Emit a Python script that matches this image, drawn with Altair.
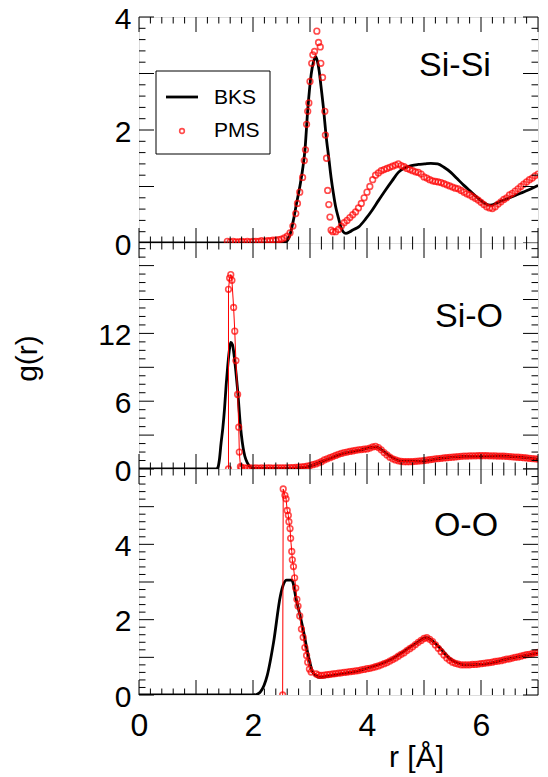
import altair as alt
import numpy as np
import pandas as pd

FONT = "Liberation Sans"
W, H = 399, 226

# ---------------- data ----------------
# BKS curves (black lines)
sisi_bks_r = [0.0, 2.50, 2.59, 2.65, 2.71, 2.76, 2.82, 2.87, 2.91, 2.96, 3.02, 3.06, 3.10,
              3.13, 3.16, 3.19, 3.24, 3.28, 3.33, 3.37, 3.41, 3.45, 3.50, 3.54, 3.58, 3.63,
              3.70, 3.75, 3.86, 3.98, 4.09, 4.20, 4.32, 4.44, 4.55, 4.67, 4.78, 4.90, 5.01,
              5.12, 5.24, 5.35, 5.47, 5.58, 5.70, 5.82, 5.93, 6.00, 6.07, 6.16, 6.30, 6.45,
              6.60, 6.74, 6.88, 7.00]
sisi_bks_g = [0.0, 0.0, 0.03, 0.15, 0.41, 0.68, 0.99, 1.30, 1.63, 2.35, 2.98, 3.20, 3.30,
              3.22, 3.05, 2.80, 2.35, 1.92, 1.50, 1.16, 0.88, 0.64, 0.44, 0.29, 0.20, 0.17,
              0.20, 0.23, 0.29, 0.43, 0.58, 0.75, 0.93, 1.10, 1.25, 1.33, 1.37, 1.39, 1.40,
              1.41, 1.40, 1.34, 1.25, 1.14, 1.02, 0.91, 0.81, 0.75, 0.70, 0.67, 0.72, 0.78,
              0.84, 0.90, 0.96, 1.02]

sio_bks_r = [0.0, 1.35, 1.38, 1.41, 1.44, 1.47, 1.50, 1.53, 1.56, 1.59, 1.61, 1.64, 1.67,
             1.70, 1.73, 1.78, 1.84, 1.93, 2.00, 2.50, 2.90, 3.30, 3.60, 3.90, 4.15, 4.40,
             4.60, 4.90, 5.30, 5.70, 6.30, 7.00]
sio_bks_g = [0.0, 0.0, 0.1, 0.8, 2.3, 3.6, 5.3, 7.5, 9.3, 10.7, 11.2, 11.0, 10.0,
             8.6, 7.0, 3.8, 1.5, 0.3, 0.05, 0.05, 0.15, 0.85, 1.4, 1.7, 1.95, 1.15,
             0.7, 0.7, 0.95, 1.12, 1.15, 0.88]

oo_bks_r = [0.0, 2.00, 2.07, 2.13, 2.25, 2.36, 2.48, 2.53, 2.59, 2.68, 2.76, 2.88, 2.97,
            3.05, 3.17, 3.50, 3.86, 4.43, 4.83, 5.04, 5.24, 5.47, 5.70, 6.04, 6.45, 7.00]
oo_bks_g = [0.0, 0.0, 0.02, 0.08, 0.52, 1.39, 2.63, 2.92, 3.05, 3.05, 2.53, 1.74, 1.05,
            0.60, 0.47, 0.55, 0.65, 0.95, 1.34, 1.52, 1.31, 0.95, 0.80, 0.82, 0.95, 1.12]


def grid(start, n):
    return [round(start + 0.05 * k, 2) for k in range(n)]


# PMS Si-Si (open circles)
sisi_pms_r = (grid(1.55, 23)
              + [2.70, 2.75, 2.78, 2.82, 2.87, 2.90, 2.92, 2.94, 2.96, 2.98, 3.00, 3.03, 3.05,
                 3.08, 3.12, 3.15, 3.18, 3.19, 3.22, 3.26, 3.27, 3.29, 3.31, 3.33, 3.35, 3.37]
              + grid(3.40, 73))
sisi_pms_g = ([0.03, 0.02, 0.03, 0.02, 0.02, 0.03, 0.02, 0.03, 0.02, 0.03, 0.03, 0.03,
               0.04, 0.03, 0.04, 0.04, 0.05, 0.05, 0.06, 0.07, 0.09, 0.12, 0.18]
              + [0.30, 0.52, 0.70, 0.90, 1.16, 1.46, 1.65, 2.10, 2.33, 2.48, 2.86, 3.18, 3.33,
                 3.39, 3.75, 3.55, 3.47, 3.18, 2.93, 2.33, 1.91, 1.50, 0.93, 0.68, 0.46, 0.23]
              + [0.20, 0.20, 0.24, 0.30, 0.36, 0.40, 0.45, 0.50, 0.55, 0.62, 0.70, 0.80,
                 0.90, 1.00, 1.12, 1.20, 1.24, 1.28, 1.30, 1.32, 1.34, 1.36, 1.38, 1.40,
                 1.37, 1.35, 1.32, 1.30, 1.28, 1.26, 1.25, 1.22,
                 1.17, 1.15, 1.12, 1.10, 1.09, 1.08, 1.07, 1.05, 1.03, 1.01, 0.99, 0.97,
                 0.96, 0.93, 0.90, 0.87, 0.85, 0.82, 0.79, 0.76,
                 0.72, 0.68, 0.64, 0.62, 0.61, 0.64, 0.69, 0.73, 0.77, 0.80, 0.85, 0.88,
                 0.92, 0.96, 1.00, 1.04, 1.08, 1.12, 1.15, 1.19,
                 1.22])

# PMS Si-O
sio_pms_r = ([1.57, 1.57, 1.59, 1.61, 1.63, 1.66, 1.68, 1.70, 1.73, 1.75, 1.76, 1.78]
             + grid(1.80, 105))
sio_pms_g = ([0.0, 15.9, 16.9, 17.2, 16.7, 14.3, 12.2, 9.6, 6.6, 3.7, 1.5, 0.2]
             + [0.12, 0.10, 0.08, 0.10, 0.08, 0.10, 0.08, 0.10, 0.08, 0.10, 0.10, 0.08, 0.10, 0.10,
                0.10, 0.10, 0.10, 0.12, 0.12, 0.14, 0.16, 0.18, 0.20, 0.25,
                0.30, 0.38, 0.45, 0.55, 0.65, 0.80, 0.90, 1.00, 1.10, 1.20, 1.30, 1.38,
                1.45, 1.50, 1.55, 1.60, 1.65, 1.70, 1.72, 1.75,
                1.78, 1.85, 1.95, 2.00, 1.90, 1.70, 1.45, 1.25, 1.05, 0.90, 0.80, 0.72,
                0.68, 0.65, 0.65, 0.65, 0.66, 0.68, 0.70, 0.72,
                0.75, 0.78, 0.82, 0.86, 0.90, 0.92, 0.95, 0.98, 1.00, 1.02, 1.05, 1.07,
                1.10, 1.12, 1.14, 1.15, 1.16, 1.17, 1.17, 1.18,
                1.18, 1.18, 1.18, 1.17, 1.17, 1.16, 1.15, 1.14, 1.13, 1.12, 1.10, 1.08,
                1.06, 1.04, 1.02, 1.00, 0.98, 0.95, 0.92, 0.90,
                0.88])

# PMS O-O
oo_pms_r = ([2.52, 2.53, 2.56, 2.58, 2.60, 2.62, 2.63, 2.65, 2.66, 2.68, 2.69, 2.71, 2.73,
             2.75, 2.77, 2.79, 2.82, 2.85, 2.88, 2.91, 2.94, 2.96, 2.99, 3.02, 3.11]
            + grid(3.15, 78))
oo_pms_g = ([0.0, 5.47, 5.30, 5.21, 4.90, 4.77, 4.60, 4.42, 4.16, 3.81, 3.59, 3.41, 3.11,
             2.84, 2.54, 2.36, 2.10, 1.75, 1.53, 1.26, 1.05, 0.87, 0.69, 0.61, 0.56]
            + [0.53, 0.52, 0.53, 0.54, 0.55, 0.56, 0.57, 0.58, 0.59, 0.60, 0.61, 0.62,
               0.63, 0.64, 0.65, 0.67, 0.68,
               0.70, 0.71, 0.73, 0.75, 0.77, 0.80, 0.83, 0.86, 0.90, 0.94, 0.98, 1.03,
               1.08, 1.12, 1.18, 1.23, 1.28, 1.34, 1.40, 1.45,
               1.50, 1.52, 1.48, 1.42, 1.33, 1.24, 1.15, 1.06, 0.98, 0.92, 0.87, 0.84,
               0.82, 0.80, 0.80, 0.80, 0.80, 0.81, 0.81, 0.82,
               0.83, 0.84, 0.85, 0.86, 0.87, 0.89, 0.90, 0.91, 0.93, 0.95, 0.96, 0.98,
               1.00, 1.01, 1.03, 1.05, 1.07, 1.08, 1.10, 1.12,
               1.13])

panel_labels = ["Si-Si", "Si-O", "O-O"]
legend_labels = ["BKS", "PMS"]

x_major = [0, 1, 2, 3, 4, 5, 6, 7]
x_labels = [0, 2, 4, 6]
y_labels = [[0, 2, 4], [0, 6, 12], [0, 2, 4]]
y_major = [[0, 1, 2, 3, 4], [0, 3, 6, 9, 12, 15, 18], [0, 1, 2, 3, 4, 5, 6]]
y_domains = [[0, 4], [0, 20], [0, 6]]
y_minor_step = [0.2, 0.75, 0.2]


def minor_ticks(lo, hi, step, majors):
    vals = []
    k = 0
    while lo + k * step <= hi + 1e-9:
        v = round(lo + k * step, 4)
        if all(abs(v - m) > 1e-6 for m in majors):
            vals.append(v)
        k += 1
    return vals


def df(r, g):
    return pd.DataFrame({"r": r, "g": g, "i": list(range(len(r)))})


xscale = alt.Scale(domain=[0, 7], nice=False, zero=False)


def panel(idx, bks, pms, label, lx, ly, red_line, bottom=False, ytitle=False, legend=False):
    yscale = alt.Scale(domain=y_domains[idx], nice=False, zero=False)
    ymaj = y_major[idx]
    ymin = minor_ticks(y_domains[idx][0], y_domains[idx][1], y_minor_step[idx], ymaj)

    yaxis_kw = dict(values=y_labels[idx], ticks=False, domain=False, grid=False,
                    labelFontSize=30, labelFont=FONT, labelColor="black",
                    labelPadding=8, labelOffset=2, labelFlush=False, labelOverlap=False)
    if ytitle:
        yaxis_kw.update(title="g(r)", titleFontSize=30, titleFont=FONT,
                        titleFontWeight="normal", titleColor="black",
                        titleX=-112, titleY=115, titleAngle=270,
                        titleBaseline="middle", titleAlign="center")
    else:
        yaxis_kw.update(title=None)
    yaxis = alt.Axis(**yaxis_kw)

    if bottom:
        xaxis = alt.Axis(values=x_labels, ticks=False, domain=False, grid=False,
                         labelFontSize=32, labelFont=FONT, labelColor="black",
                         labelPadding=15, labelFlush=False, labelOverlap=False,
                         title="r [Å]", titleFontSize=30, titleFont=FONT,
                         titleFontWeight="normal", titleColor="black",
                         titleX=277, titleY=71, titleBaseline="alphabetic",
                         titleAlign="center")
    else:
        xaxis = None

    def X(field):
        return alt.X(field, scale=xscale, axis=xaxis)

    def Y(field):
        return alt.Y(field, scale=yscale, axis=yaxis)

    layers = []
    layers.append(alt.Chart(bks).mark_line(color="black", strokeWidth=2.8,
                                           interpolate="monotone", clip=True)
                  .encode(x=X("r:Q"), y=Y("g:Q"), order="i:Q"))
    if red_line:
        layers.append(alt.Chart(pms).mark_line(color="red", strokeWidth=1, clip=True)
                      .encode(x=X("r:Q"), y=Y("g:Q"), order="i:Q"))
    layers.append(alt.Chart(pms).mark_point(shape="circle", filled=False, color="red",
                                            size=32, strokeWidth=1.6, clip=True)
                  .encode(x=X("r:Q"), y=Y("g:Q")))

    # inward ticks on all four sides
    xmin = minor_ticks(0, 7, 0.2, x_major)
    for vals, L in [(x_major, 15), (xmin, 6.5)]:
        d = pd.DataFrame({"v": vals})
        base = alt.Chart(d).mark_rule(color="black", strokeWidth=1)
        layers.append(base.encode(x=X("v:Q"), y=alt.value(H), y2=alt.value(H - L)))
        layers.append(base.encode(x=X("v:Q"), y=alt.value(0), y2=alt.value(L)))
    for vals, L in [(ymaj, 15), (ymin, 6.5)]:
        d = pd.DataFrame({"v": vals})
        base = alt.Chart(d).mark_rule(color="black", strokeWidth=1)
        layers.append(base.encode(y=Y("v:Q"), x=alt.value(0), x2=alt.value(L)))
        layers.append(base.encode(y=Y("v:Q"), x=alt.value(W), x2=alt.value(W - L)))

    layers.append(alt.Chart(pd.DataFrame({"t": [label]}))
                  .mark_text(fontSize=34, font=FONT, color="black", align="center",
                             baseline="alphabetic")
                  .encode(text="t:N", x=alt.value(lx), y=alt.value(ly)))
    if legend:
        one = pd.DataFrame({"a": [0]})
        layers.append(alt.Chart(one).mark_rect(fill="white", stroke="black", strokeWidth=1)
                      .encode(x=alt.value(17), x2=alt.value(131),
                              y=alt.value(54), y2=alt.value(137)))
        layers.append(alt.Chart(one).mark_rule(color="black", strokeWidth=2.8)
                      .encode(x=alt.value(27), x2=alt.value(59), y=alt.value(80)))
        layers.append(alt.Chart(one).mark_point(shape="circle", filled=False, color="red",
                                                size=22, strokeWidth=1.6)
                      .encode(x=alt.value(43), y=alt.value(114)))
        layers.append(alt.Chart(pd.DataFrame({"t": [legend_labels[0]]}))
                      .mark_text(fontSize=21, font=FONT, color="black", align="left",
                                 baseline="alphabetic")
                      .encode(text="t:N", x=alt.value(75), y=alt.value(87)))
        layers.append(alt.Chart(pd.DataFrame({"t": [legend_labels[1]]}))
                      .mark_text(fontSize=21, font=FONT, color="black", align="left",
                                 baseline="alphabetic")
                      .encode(text="t:N", x=alt.value(75), y=alt.value(120)))
    return alt.layer(*layers).properties(width=W, height=H)


p1 = panel(0, df(sisi_bks_r, sisi_bks_g), df(sisi_pms_r, sisi_pms_g), panel_labels[0],
           316, 59, red_line=False, legend=True)
p2 = panel(1, df(sio_bks_r, sio_bks_g), df(sio_pms_r, sio_pms_g), panel_labels[1],
           330, 84, red_line=True, ytitle=True)
p3 = panel(2, df(oo_bks_r, oo_bks_g), df(oo_pms_r, oo_pms_g), panel_labels[2],
           327, 67, red_line=True, bottom=True)

chart = (alt.vconcat(p1, p2, p3, spacing=0, bounds="flush")
         .properties(padding={"left": 3, "top": -5, "right": 0, "bottom": 0})
         .configure_view(stroke="black", strokeWidth=1.5)
         .configure(background="white"))

chart.save("out.html", embed_options={"renderer": "svg", "actions": False})
